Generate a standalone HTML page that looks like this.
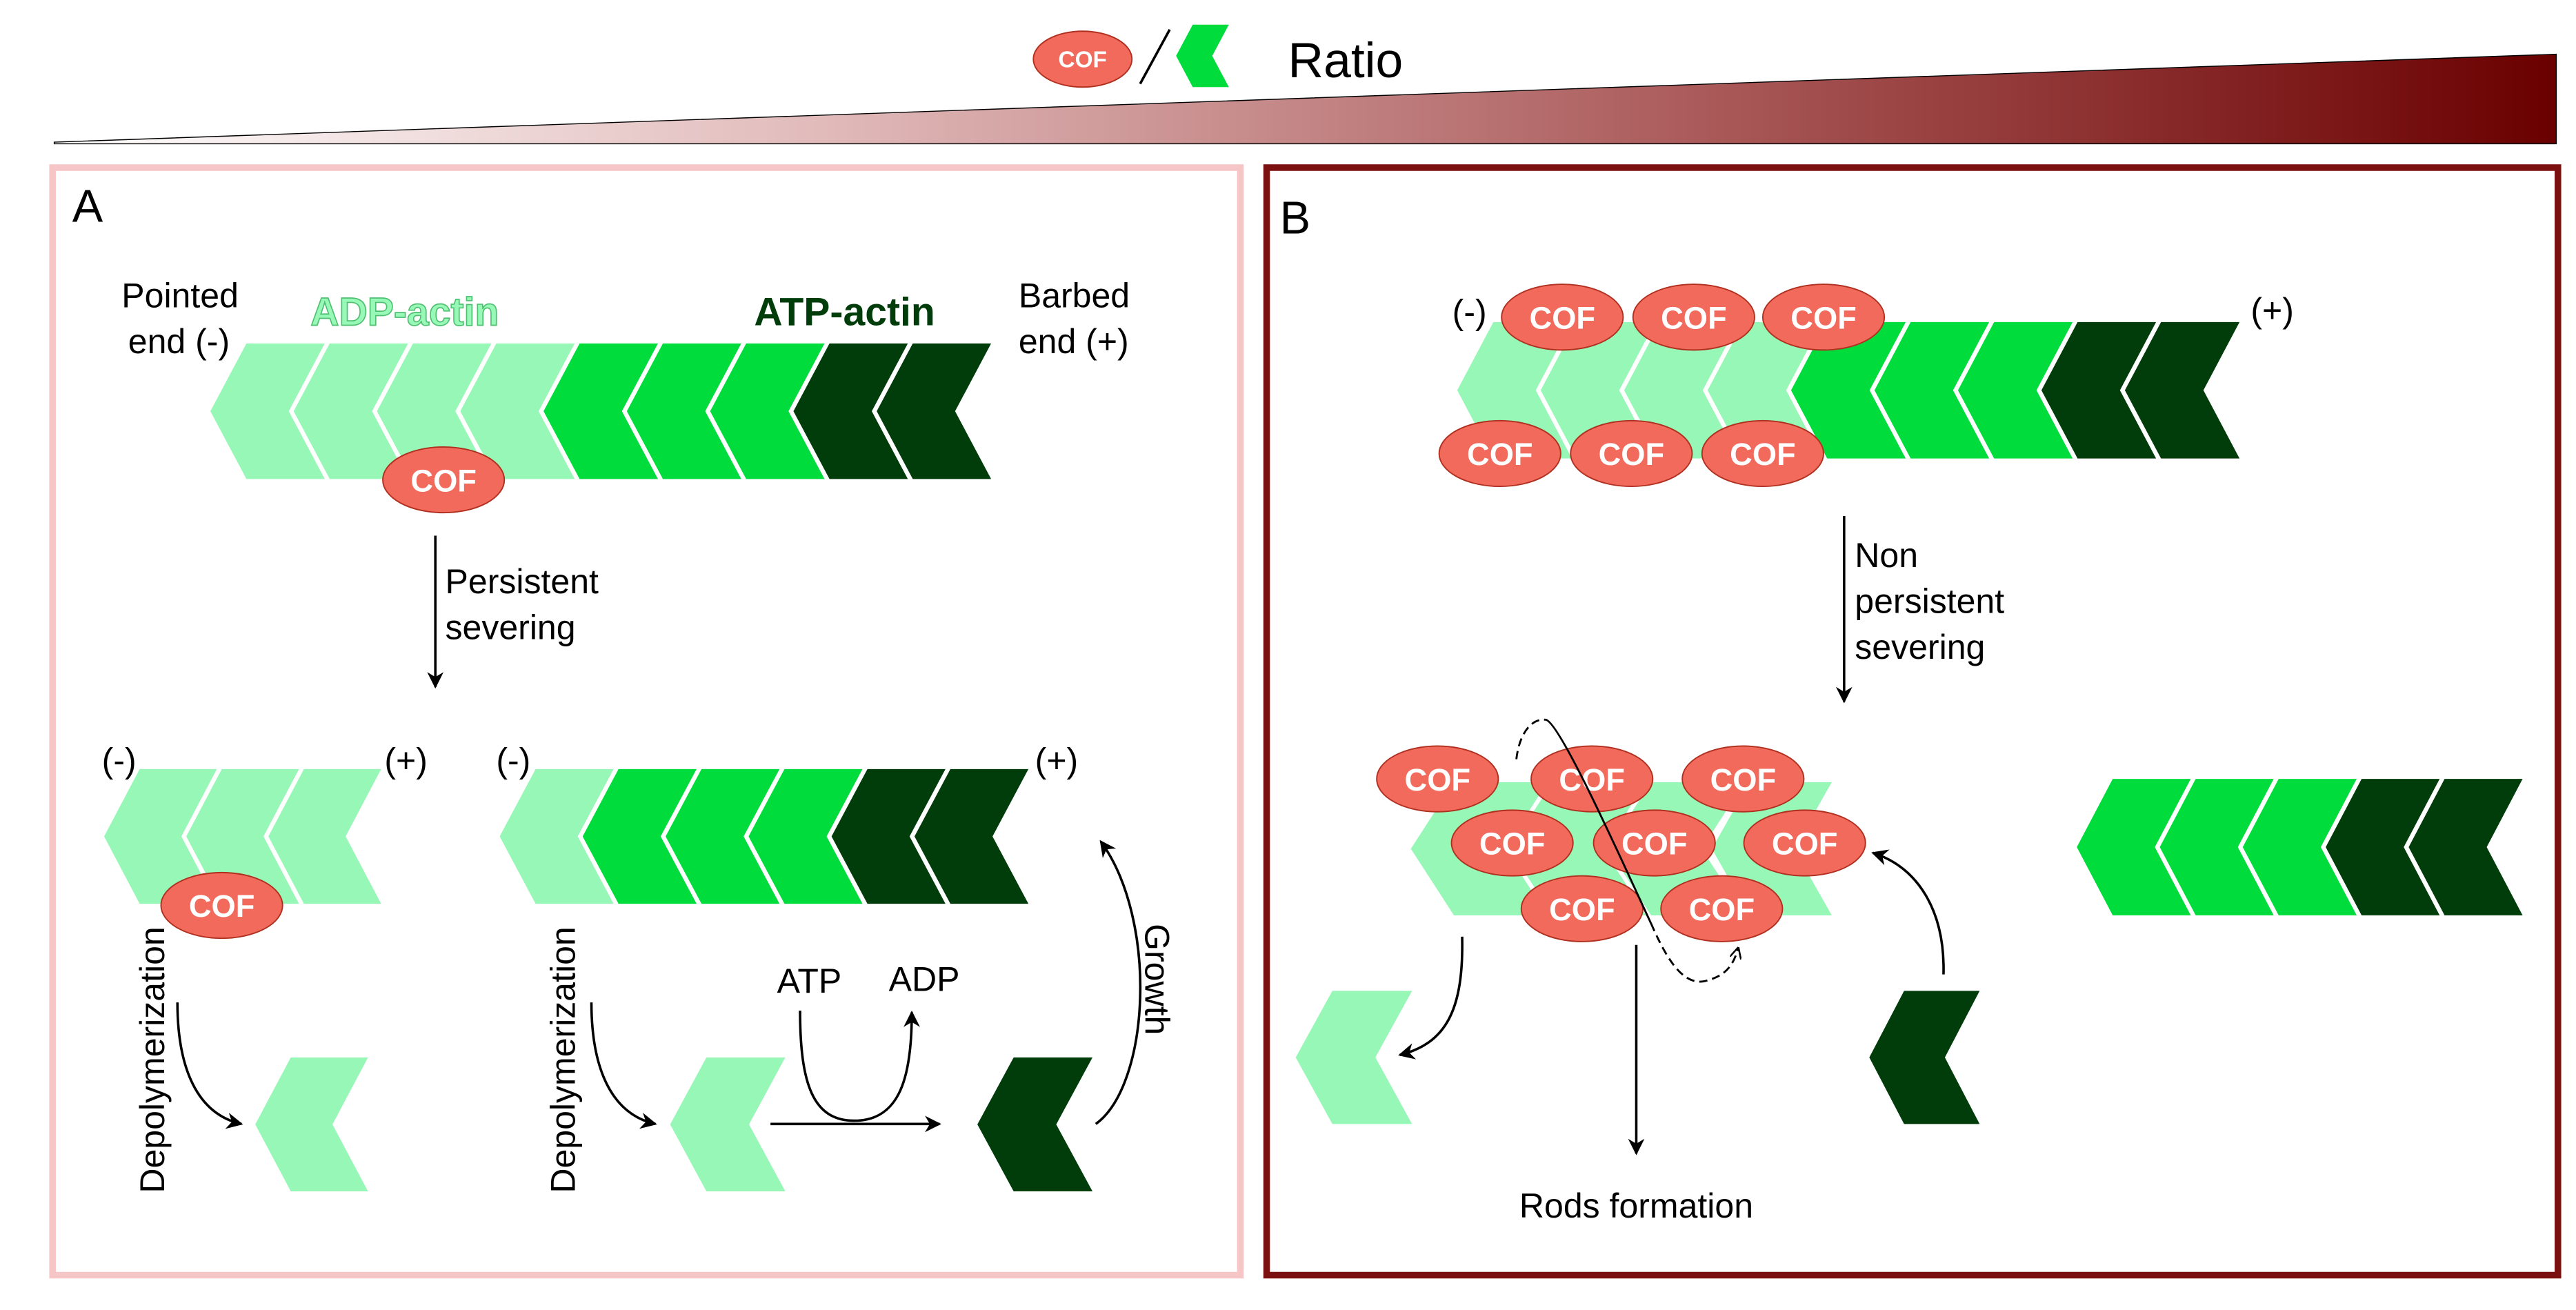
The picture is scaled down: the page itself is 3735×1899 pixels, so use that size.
<!DOCTYPE html>
<html><head><meta charset="utf-8"><style>
html,body{margin:0;padding:0;background:#fff;}
svg{display:block;}
text{font-family:"Liberation Sans",Arial,sans-serif;}
.lbl{font-size:21px;fill:#000;}
.cof{font-size:19px;font-weight:bold;fill:#fff;text-anchor:middle;}
.ln{stroke:#000;stroke-width:1.5;fill:none;}
</style></head><body>
<svg width="3735" height="1899" viewBox="0 0 1568 797.2" preserveAspectRatio="none" xmlns="http://www.w3.org/2000/svg">
<defs>
<polygon id="c" points="0,0 1,0 0.54,0.5 1,1 0,1 -0.46,0.5"/>
<linearGradient id="g" x1="0" x2="1" y1="0" y2="0">
<stop offset="0" stop-color="#ffffff"/><stop offset="0.3" stop-color="#e2bcbc"/><stop offset="0.65" stop-color="#ac5c5c"/><stop offset="1" stop-color="#6a0000"/>
</linearGradient>
<marker id="a" viewBox="0 0 10 10" refX="9" refY="5" markerWidth="10" markerHeight="10" markerUnits="userSpaceOnUse" orient="auto"><path d="M0,0 L10,5 L0,10 L3,5 z" fill="#000"/></marker>
<marker id="s" viewBox="0 0 10 10" refX="9" refY="5" markerWidth="7" markerHeight="7" markerUnits="userSpaceOnUse" orient="auto"><path d="M0,0 L10,5 L0,10" fill="none" stroke="#000" stroke-width="1.5"/></marker>
<g id="cofE"><ellipse cx="0" cy="0" rx="37" ry="20" fill="#f26a5c" stroke="#b03020" stroke-width="0.8"/><text class="cof" x="0" y="7">COF</text></g>
</defs>

<!-- legend -->
<ellipse cx="659" cy="36" rx="30" ry="17" fill="#f26a5c" stroke="#b03020" stroke-width="0.8"/>
<text x="659" y="41" style="font-size:14px;font-weight:bold;fill:#fff;text-anchor:middle">COF</text>
<line x1="694" y1="51" x2="712" y2="18" stroke="#000" stroke-width="1.5"/>
<use href="#c" transform="translate(726,15) scale(22,38)" fill="#00dc3c"/>
<text x="784" y="47" style="font-size:30px">Ratio</text>
<polygon points="33,86.5 1556,33 1556,87.5 33,87.5" fill="url(#g)" stroke="#000" stroke-width="0.6"/>

<!-- panels -->
<rect x="32" y="102" width="723" height="674" fill="none" stroke="#f6c6c6" stroke-width="4"/>
<rect x="771" y="102" width="786" height="674" fill="none" stroke="#7a1010" stroke-width="4"/>
<text x="44" y="135" style="font-size:28px">A</text>
<text x="779" y="142" style="font-size:28px">B</text>

<!-- Panel A top filament -->
<text class="lbl" x="74" y="187">Pointed</text>
<text class="lbl" x="78" y="215">end (-)</text>
<text class="lbl" x="620" y="187">Barbed</text>
<text class="lbl" x="620" y="215">end (+)</text>
<text x="189" y="198" style="font-size:24px;font-weight:bold;fill:#98f8b8;stroke:#4fc070;stroke-width:0.7">ADP-actin</text>
<text x="459" y="198" style="font-size:24px;font-weight:bold;fill:#013d0b">ATP-actin</text>
<use href="#c" transform="translate(150,209) scale(47.7,82.5)" fill="#96f7b6"/>
<use href="#c" transform="translate(200.7,209) scale(47.7,82.5)" fill="#96f7b6"/>
<use href="#c" transform="translate(251.4,209) scale(47.7,82.5)" fill="#96f7b6"/>
<use href="#c" transform="translate(302.1,209) scale(47.7,82.5)" fill="#96f7b6"/>
<use href="#c" transform="translate(352.8,209) scale(47.7,82.5)" fill="#00dc3c"/>
<use href="#c" transform="translate(403.5,209) scale(47.7,82.5)" fill="#00dc3c"/>
<use href="#c" transform="translate(454.2,209) scale(47.7,82.5)" fill="#00dc3c"/>
<use href="#c" transform="translate(504.9,209) scale(47.7,82.5)" fill="#013d0b"/>
<use href="#c" transform="translate(555.6,209) scale(47.7,82.5)" fill="#013d0b"/>
<use href="#cofE" transform="translate(270,292)"/>
<line class="ln" x1="265" y1="326" x2="265" y2="418" marker-end="url(#a)"/>
<text class="lbl" x="271" y="361">Persistent</text>
<text class="lbl" x="271" y="389">severing</text>

<!-- lower left -->
<text class="lbl" x="62" y="470">(-)</text>
<text class="lbl" x="234" y="470">(+)</text>
<use href="#c" transform="translate(85,468) scale(47,82)" fill="#96f7b6"/>
<use href="#c" transform="translate(135,468) scale(47,82)" fill="#96f7b6"/>
<use href="#c" transform="translate(185,468) scale(47,82)" fill="#96f7b6"/>
<use href="#cofE" transform="translate(135,551)"/>
<text class="lbl" transform="translate(100,645) rotate(-90)" text-anchor="middle">Depolymerization</text>
<path class="ln" d="M108,610 C108,650 120,678 147,684" marker-end="url(#a)"/>
<use href="#c" transform="translate(177,643.5) scale(47,81.5)" fill="#96f7b6"/>

<!-- lower middle -->
<text class="lbl" x="302" y="470">(-)</text>
<text class="lbl" x="630" y="470">(+)</text>
<use href="#c" transform="translate(326,468) scale(47.5,82)" fill="#96f7b6"/>
<use href="#c" transform="translate(376.5,468) scale(47.5,82)" fill="#00dc3c"/>
<use href="#c" transform="translate(427,468) scale(47.5,82)" fill="#00dc3c"/>
<use href="#c" transform="translate(477.5,468) scale(47.5,82)" fill="#00dc3c"/>
<use href="#c" transform="translate(528,468) scale(47.5,82)" fill="#013d0b"/>
<use href="#c" transform="translate(578.5,468) scale(47.5,82)" fill="#013d0b"/>
<text class="lbl" transform="translate(350,645) rotate(-90)" text-anchor="middle">Depolymerization</text>
<path class="ln" d="M360,610 C360,650 372,678 399,684" marker-end="url(#a)"/>
<use href="#c" transform="translate(430,643.5) scale(48,81.5)" fill="#96f7b6"/>
<line class="ln" x1="469" y1="684" x2="572" y2="684" marker-end="url(#a)"/>
<text class="lbl" x="473" y="604">ATP</text>
<text class="lbl" x="541" y="603">ADP</text>
<path class="ln" d="M487,615 C487,660 495,682 520,682 C548,682 555,655 555,616" marker-end="url(#a)"/>
<use href="#c" transform="translate(617,643.5) scale(48,81.5)" fill="#013d0b"/>
<path class="ln" d="M667,684 C700,660 705,560 670,512" marker-end="url(#a)"/>
<text class="lbl" transform="translate(697,596) rotate(90)" text-anchor="middle">Growth</text>

<!-- Panel B top -->
<text class="lbl" x="884" y="197">(-)</text>
<text class="lbl" x="1370" y="196">(+)</text>
<use href="#c" transform="translate(909,196) scale(47.8,83)" fill="#96f7b6"/>
<use href="#c" transform="translate(959.8,196) scale(47.8,83)" fill="#96f7b6"/>
<use href="#c" transform="translate(1010.6,196) scale(47.8,83)" fill="#96f7b6"/>
<use href="#c" transform="translate(1061.4,196) scale(47.8,83)" fill="#96f7b6"/>
<use href="#c" transform="translate(1112.2,196) scale(47.8,83)" fill="#00dc3c"/>
<use href="#c" transform="translate(1163,196) scale(47.8,83)" fill="#00dc3c"/>
<use href="#c" transform="translate(1213.8,196) scale(47.8,83)" fill="#00dc3c"/>
<use href="#c" transform="translate(1264.6,196) scale(47.8,83)" fill="#013d0b"/>
<use href="#c" transform="translate(1315.4,196) scale(47.8,83)" fill="#013d0b"/>
<use href="#cofE" transform="translate(951,193)"/>
<use href="#cofE" transform="translate(1031,193)"/>
<use href="#cofE" transform="translate(1110,193)"/>
<use href="#cofE" transform="translate(913,276)"/>
<use href="#cofE" transform="translate(993,276)"/>
<use href="#cofE" transform="translate(1073,276)"/>
<line class="ln" x1="1122.5" y1="314" x2="1122.5" y2="427" marker-end="url(#a)"/>
<text class="lbl" x="1129" y="345">Non</text>
<text class="lbl" x="1129" y="373">persistent</text>
<text class="lbl" x="1129" y="401">severing</text>

<!-- B cluster -->
<use href="#c" transform="translate(885,476) scale(57,81)" fill="#96f7b6"/>
<use href="#c" transform="translate(945,476) scale(57,81)" fill="#96f7b6"/>
<use href="#c" transform="translate(1005,476) scale(57,81)" fill="#96f7b6"/>
<use href="#c" transform="translate(1065,476) scale(50,81)" fill="#96f7b6"/>
<use href="#cofE" transform="translate(875,474)"/>
<use href="#cofE" transform="translate(969,474)"/>
<use href="#cofE" transform="translate(1061,474)"/>
<use href="#cofE" transform="translate(920.5,513)"/>
<use href="#cofE" transform="translate(1007,513)"/>
<use href="#cofE" transform="translate(1098.5,513)"/>
<use href="#cofE" transform="translate(963,553)"/>
<use href="#cofE" transform="translate(1048,553)"/>
<path d="M923,462 C925,445 933,437 941,438" stroke="#000" stroke-width="1.2" fill="none" stroke-dasharray="5,3"/>
<path d="M941,438 C950,440 990,530 1005,562" stroke="#000" stroke-width="1.2" fill="none"/>
<path d="M1005,562 C1015,585 1025,600 1038,597 C1050,594 1055,588 1058,577" stroke="#000" stroke-width="1.2" fill="none" stroke-dasharray="5,3" marker-end="url(#s)"/>
<path class="ln" d="M890,570 C891,615 880,635 852,642" marker-end="url(#a)"/>
<use href="#c" transform="translate(811,603) scale(48.5,81)" fill="#96f7b6"/>
<line class="ln" x1="996" y1="575" x2="996" y2="702" marker-end="url(#a)"/>
<text class="lbl" x="996" y="741" text-anchor="middle">Rods formation</text>
<use href="#c" transform="translate(1159,603) scale(46,81)" fill="#013d0b"/>
<path class="ln" d="M1183,593 C1184,555 1168,528 1140,519" marker-end="url(#a)"/>

<!-- B right filament -->
<use href="#c" transform="translate(1286,474) scale(47.5,83)" fill="#00dc3c"/>
<use href="#c" transform="translate(1336.5,474) scale(47.5,83)" fill="#00dc3c"/>
<use href="#c" transform="translate(1387,474) scale(47.5,83)" fill="#00dc3c"/>
<use href="#c" transform="translate(1437.5,474) scale(47.5,83)" fill="#013d0b"/>
<use href="#c" transform="translate(1488,474) scale(47.5,83)" fill="#013d0b"/>
</svg>
</body></html>
